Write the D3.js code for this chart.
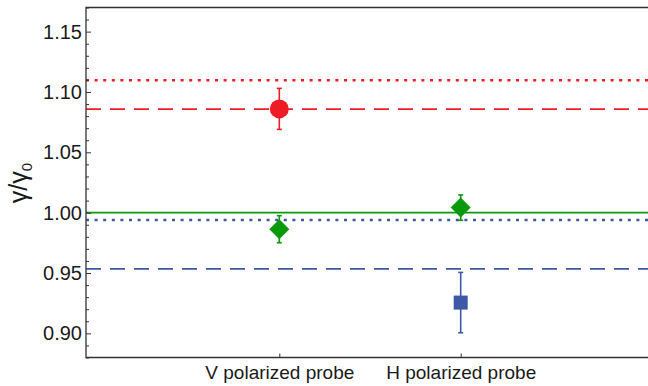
<!DOCTYPE html>
<html>
<head>
<meta charset="utf-8">
<script src="https://cdn.jsdelivr.net/npm/d3@7"></script>
<style>
  body { margin: 0; background: #fff; }
  text { font-family: "Liberation Sans", Arial, sans-serif; fill: #1a1a1a; }
</style>
</head>
<body>
<div id="chart"></div>
<script>
(function () {
// Categories on the x axis
const categories = ["V polarized probe", "H polarized probe"];

// Horizontal reference levels
const refValues = [1.1097, 1.0858, 1.0, 0.9939, 0.9535];
const refColors = ["#ee1c25", "#ee1c25", "#0a990a", "#3d58a6", "#3d58a6"];
const refStyles = ["dotted", "dashed", "solid", "dotted", "dashed"];

// Measured points: [category, value, error]
const redCircles = [["V polarized probe", 1.086, 0.017]];
const greenDiamonds = [["V polarized probe", 0.9863, 0.0112], ["H polarized probe", 1.0042, 0.0105]];
const blueSquares = [["H polarized probe", 0.9255, 0.025]];

// Y ticks
const yMajorTicks = [0.90, 0.95, 1.00, 1.05, 1.10, 1.15];

const width = 648, height = 386;
const plotLeft = 86, plotTop = 7.5, plotRight = 648, plotBottom = 357.5;

const svg = d3.select("#chart").append("svg")
    .attr("width", width)
    .attr("height", height);

const y = d3.scaleLinear().domain([0.88, 1.17]).range([plotBottom, plotTop]);
const x = d3.scalePoint().domain(categories).range([279.3, 460.7]);

const red = "#ee1c25", green = "#0a990a", blue = "#3d58a6";

// Reference lines
const dashFor = { dotted: "3,5.6", dashed: "15,9", solid: null };
const widthFor = { dotted: 2.4, dashed: 1.8, solid: 1.8 };
svg.append("g").selectAll("line")
    .data(refValues)
    .enter().append("line")
    .attr("x1", plotLeft)
    .attr("x2", plotRight)
    .attr("y1", d => y(d))
    .attr("y2", d => y(d))
    .attr("stroke", (d, i) => refColors[i])
    .attr("stroke-width", (d, i) => widthFor[refStyles[i]])
    .attr("stroke-dasharray", (d, i) => dashFor[refStyles[i]]);

// Y axis, major and minor ticks pointing inside
const yMinor = d3.range(88, 118).map(v => v / 100).filter(v => yMajorTicks.every(m => Math.abs(m - v) > 1e-6));
svg.append("g")
    .attr("transform", `translate(${plotLeft},0)`)
    .call(d3.axisLeft(y).tickValues(yMinor).tickFormat("").tickSizeInner(-3).tickSizeOuter(0))
    .call(g => g.select(".domain").remove())
    .selectAll("line").attr("stroke", "#333");

svg.append("g")
    .attr("transform", `translate(${plotLeft},0)`)
    .call(d3.axisLeft(y).tickValues(yMajorTicks).tickFormat(d3.format(".2f")).tickSizeInner(-5).tickSizeOuter(0).tickPadding(4))
    .call(g => g.select(".domain").remove())
    .call(g => g.selectAll("line").attr("stroke", "#333"))
    .call(g => g.selectAll("text").attr("font-size", 20).attr("fill", "#1a1a1a"));

// X axis
svg.append("g")
    .attr("transform", `translate(0,${plotBottom})`)
    .call(d3.axisBottom(x).tickSizeInner(-4).tickSizeOuter(0).tickPadding(8.5))
    .call(g => g.select(".domain").remove())
    .call(g => g.selectAll("line").attr("stroke", "#333"))
    .call(g => g.selectAll("text").attr("font-size", 19).attr("fill", "#1a1a1a"));

// Frame: left, top, bottom
svg.append("path")
    .attr("d", `M${plotRight},${plotTop}H${plotLeft}V${plotBottom}H${plotRight}`)
    .attr("fill", "none")
    .attr("stroke", "#333")
    .attr("stroke-width", 1.3);

// Y label
svg.append("text")
    .attr("transform", "translate(27,183) rotate(-90)")
    .attr("text-anchor", "middle")
    .attr("font-size", 25)
    .html('γ/γ<tspan dy="5" font-size="15">0</tspan>');

// Error bars
function errorBars(data, color) {
    const g = svg.append("g").attr("stroke", color).attr("stroke-width", 1.6);
    data.forEach(d => {
        const cx = x(d[0]);
        g.append("line").attr("x1", cx).attr("x2", cx).attr("y1", y(d[1] + d[2])).attr("y2", y(d[1] - d[2]));
        g.append("line").attr("x1", cx - 2.5).attr("x2", cx + 2.5).attr("y1", y(d[1] + d[2])).attr("y2", y(d[1] + d[2]));
        g.append("line").attr("x1", cx - 2.5).attr("x2", cx + 2.5).attr("y1", y(d[1] - d[2])).attr("y2", y(d[1] - d[2]));
    });
}

errorBars(redCircles, red);
errorBars(greenDiamonds, green);
errorBars(blueSquares, blue);

// Markers
svg.append("g").selectAll("circle")
    .data(redCircles)
    .enter().append("circle")
    .attr("cx", d => x(d[0]))
    .attr("cy", d => y(d[1]))
    .attr("r", 9.5)
    .attr("fill", red);

svg.append("g").selectAll("path")
    .data(greenDiamonds)
    .enter().append("path")
    .attr("d", d => {
        const cx = x(d[0]), cy = y(d[1]);
        return `M${cx},${cy - 10}L${cx + 10},${cy}L${cx},${cy + 10}L${cx - 10},${cy}Z`;
    })
    .attr("fill", green);

svg.append("g").selectAll("rect")
    .data(blueSquares)
    .enter().append("rect")
    .attr("x", d => x(d[0]) - 7)
    .attr("y", d => y(d[1]) - 7)
    .attr("width", 14)
    .attr("height", 14)
    .attr("fill", blue);
})();
</script>
</body>
</html>
